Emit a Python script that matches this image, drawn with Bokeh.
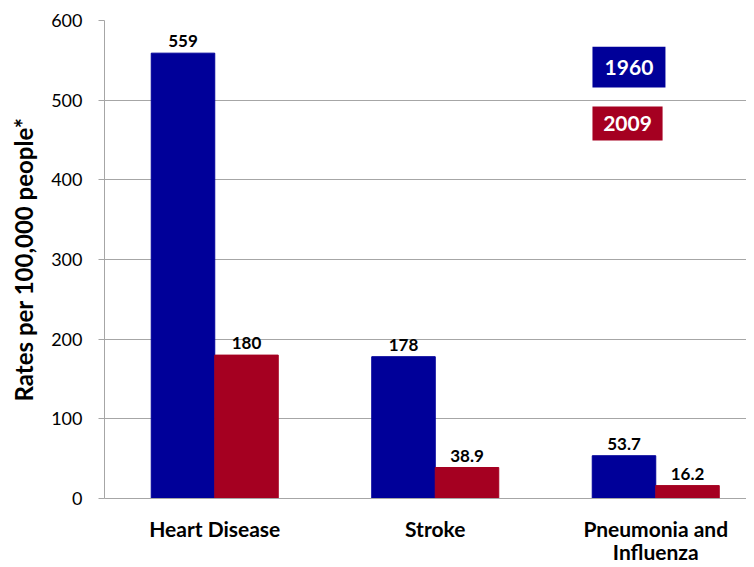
from bokeh.plotting import figure
from bokeh.models import Range1d, FixedTicker, BoxAnnotation, Label, ColumnDataSource
from bokeh.core.properties import value
from bokeh.embed import file_html
from bokeh.resources import INLINE
import numpy as np

categories = ["Heart Disease", "Stroke", "Pneumonia and\nInfluenza"]
rates_1960 = [559, 178, 53.7]
rates_2009 = [180, 38.9, 16.2]
series_names = ["1960", "2009"]
y_ticks = [0, 100, 200, 300, 400, 500, 600]

BLUE = "#000099"
RED = "#A50021"
GRID = "#A6A6A6"
FONT = "Lato"

idx = np.arange(len(categories)) + 0.5

W, H = 746, 567
LEFT, TOP, BOTTOM_Y = 104, 20, 498
CAT_W = 220.5

p = figure(width=W, height=H, output_backend="svg", toolbar_location=None,
           x_range=Range1d(0, (W - LEFT) / CAT_W), y_range=Range1d(0, 600),
           min_border_left=LEFT, min_border_right=0, min_border_top=TOP,
           min_border_bottom=H - BOTTOM_Y)

bw = 0.288
src1 = ColumnDataSource(dict(x=idx - bw / 2, top=rates_1960, lab=[str(v) for v in rates_1960]))
src2 = ColumnDataSource(dict(x=idx + bw / 2, top=rates_2009, lab=[str(v) for v in rates_2009]))
p.vbar(x="x", top="top", width=bw, bottom=0, source=src1, fill_color=BLUE, line_color=BLUE)
p.vbar(x="x", top="top", width=bw, bottom=0, source=src2, fill_color=RED, line_color=RED)

for s in (src1, src2):
    p.text(x="x", y="top", text="lab", source=s, text_align="center", text_baseline="bottom",
           y_offset=-6, text_font=value(FONT), text_font_style="bold", text_font_size="17px",
           text_color="black")

# legend boxes
p.add_layout(BoxAnnotation(left=2.213, right=2.544, bottom=516, top=567,
                           fill_color=BLUE, fill_alpha=1, line_color=None, level="overlay"))
p.add_layout(BoxAnnotation(left=2.213, right=2.531, bottom=449.5, top=492,
                           fill_color=RED, fill_alpha=1, line_color=None, level="overlay"))
p.add_layout(Label(x=(2.213 + 2.544) / 2, y=(516 + 567) / 2, text=series_names[0],
                   text_align="center", text_baseline="middle", text_color="white",
                   text_font=FONT, text_font_style="bold", text_font_size="21px", level="overlay"))
p.add_layout(Label(x=(2.213 + 2.531) / 2, y=(449.5 + 492) / 2, text=series_names[1],
                   text_align="center", text_baseline="middle", text_color="white",
                   text_font=FONT, text_font_style="bold", text_font_size="21px", level="overlay"))

p.outline_line_color = None
p.xgrid.grid_line_color = None
p.ygrid.grid_line_color = GRID
p.ygrid.grid_line_width = 1
p.ygrid.ticker = FixedTicker(ticks=y_ticks)

p.yaxis.ticker = FixedTicker(ticks=y_ticks)
p.yaxis.axis_line_color = GRID
p.yaxis.major_tick_line_color = GRID
p.yaxis.major_tick_out = 6
p.yaxis.major_tick_in = 0
p.yaxis.minor_tick_line_color = None
p.yaxis.major_label_standoff = 16
p.yaxis.major_label_text_font = FONT
p.yaxis.major_label_text_font_size = "18px"
p.yaxis.major_label_text_color = "black"
p.yaxis.axis_label = "Rates per 100,000 people*"
p.yaxis.axis_label_text_font = FONT
p.yaxis.axis_label_text_font_style = "bold"
p.yaxis.axis_label_text_font_size = "24px"
p.yaxis.axis_label_text_color = "black"
p.yaxis.axis_label_standoff = 10

p.xaxis.ticker = FixedTicker(ticks=list(idx))
p.xaxis.major_label_overrides = {float(v): c for v, c in zip(idx, categories)}
p.xaxis.axis_line_color = GRID
p.xaxis.major_tick_line_color = None
p.xaxis.minor_tick_line_color = None
p.xaxis.major_tick_out = 0
p.xaxis.major_tick_in = 0
p.xaxis.major_label_standoff = 17
p.xaxis.major_label_text_font = FONT
p.xaxis.major_label_text_font_style = "bold"
p.xaxis.major_label_text_font_size = "21px"
p.xaxis.major_label_text_color = "black"
p.xaxis.major_label_text_line_height = 0.95

open("out.html", "w").write(file_html(p, INLINE))
